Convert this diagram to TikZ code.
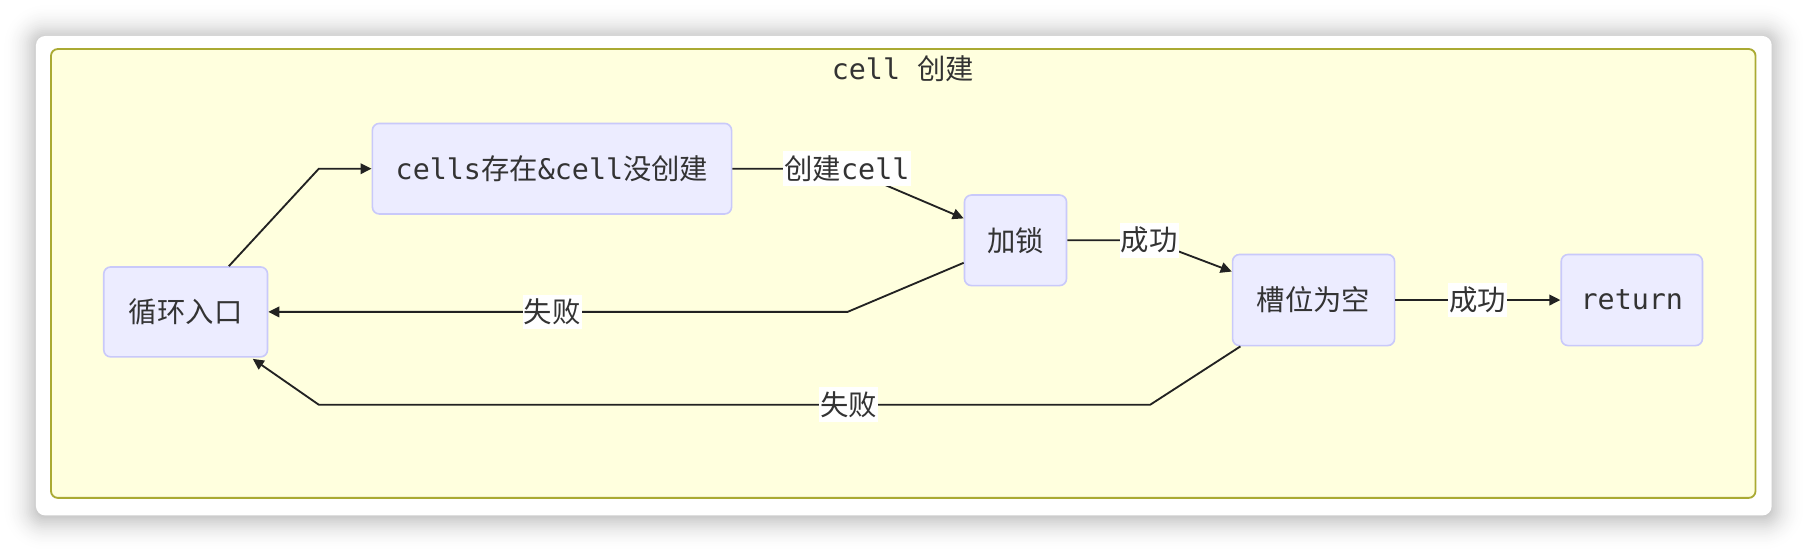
\documentclass[tikz,border=0pt]{standalone}
\usepackage{fontspec}
\setmainfont{DejaVu Sans Mono}
\newfontfamily\zhfont{Noto Sans CJK SC}
\newcommand{\zh}[1]{{\zhfont #1}}
\usetikzlibrary{arrows.meta,calc}
\definecolor{txt}{HTML}{333333}
\definecolor{nodefill}{HTML}{ECECFF}
\definecolor{nodedraw}{HTML}{C9C9FA}
\definecolor{clfill}{HTML}{FFFFDE}
\definecolor{cldraw}{HTML}{AAAA33}
\definecolor{edgecol}{HTML}{222222}
\begin{document}
\begin{tikzpicture}[x=0.5pt,y=-0.5pt,
  font=\fontsize{12.3pt}{14pt}\selectfont,
  box/.style={draw=nodedraw, fill=nodefill, line width=0.7pt, rounded corners=3pt, inner sep=0pt, text=txt},
  lbl/.style={fill=white, inner sep=0.5pt, minimum height=15pt, text=txt},
  arr/.style={draw=edgecol, line width=0.8pt, -{Triangle[length=4.8pt,width=4.6pt]}}]
\useasboundingbox (0,0) rectangle (1568,479);
\fill[white] (0,0) rectangle (1568,479);
% soft shadow of the card (opaque layers, outer to inner)
\foreach \d in {30,28.5,...,0}{
  \pgfmathsetmacro{\p}{20*(1-\d/30)^2}
  \fill[black!\p!white, rounded corners=4pt+\d*0.5pt] (31.2-\d,32-\d) rectangle (1536.5+\d,449+\d);
}
% card
\fill[white, rounded corners=4pt] (31.2,31.2) rectangle (1536.5,447);
% cluster
\draw[fill=clfill, draw=cldraw, line width=0.8pt, rounded corners=3pt] (44.2,42.5) rectangle (1522.5,431.8);
\node[text=txt] (title) at (783,60) {cell \zh{创建}};
% nodes
\node[box, minimum width=71pt, minimum height=39pt] (A) at (161,270.5) {\zh{循环入口}};
\node[box, minimum width=155.75pt, minimum height=39.25pt] (B) at (478.7,146.3) {cells\zh{存在}\&cell\zh{没创建}};
\node[box, minimum width=44.25pt, minimum height=39.25pt] (C) at (880.7,208.4) {\zh{加锁}};
\node[box, minimum width=70.25pt, minimum height=39.5pt] (D) at (1139.2,260.2) {\zh{槽位为空}};
\node[box, minimum width=61.25pt, minimum height=39.5pt] (E) at (1415.2,260.2) {return};
% edges
\draw[arr] ($(A.north)+(37.5,0)$) -- (276.5,146.3) -- (B.west);
\draw[arr] (B.east) -- (734.5,146.3) node[lbl] {\zh{创建}cell} -- ($(C.west)+(0,-19)$);
\draw[arr] (C.east) -- (996.7,208.4) node[lbl] {\zh{成功}} -- ($(D.west)+(0,-24.7)$);
\draw[arr] (D.east) -- node[lbl] {\zh{成功}} (E.west);
\draw[arr] ($(C.west)+(0,19.5)$) -- (735,270.5) -- node[lbl, pos=0.51] {\zh{失败}} (A.east);
\draw[arr] ($(D.south west)+(7.5,0)$) -- (997.5,351) -- node[lbl, pos=0.363] {\zh{失败}} (276.5,351) -- ($(A.south east)+(-13.5,1)$);
\end{tikzpicture}
\end{document}
